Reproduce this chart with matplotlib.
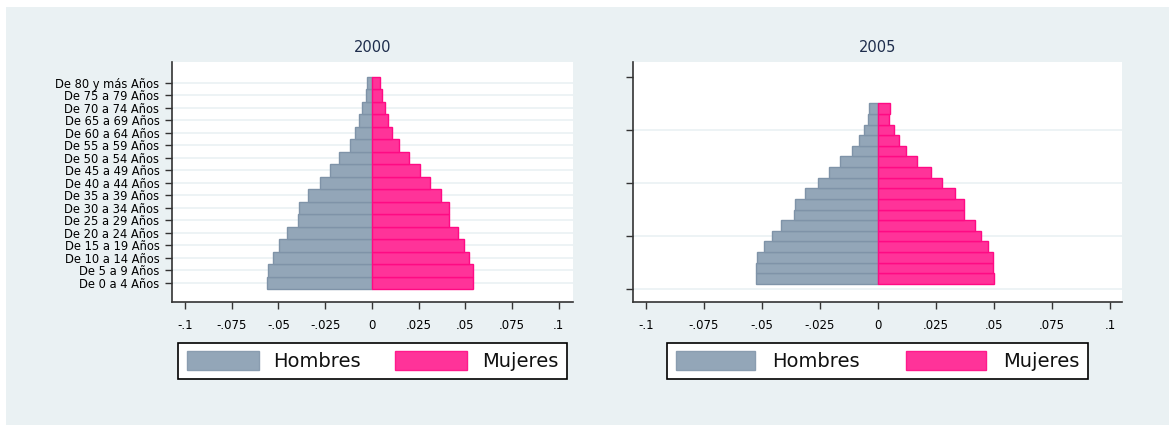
import numpy as np
import matplotlib
matplotlib.use("Agg")
import matplotlib.pyplot as plt
import matplotlib.patches as mpatches

# age groups, youngest first
grupos = ["De 0 a 4 Años", "De 5 a 9 Años", "De 10 a 14 Años", "De 15 a 19 Años",
          "De 20 a 24 Años", "De 25 a 29 Años", "De 30 a 34 Años", "De 35 a 39 Años",
          "De 40 a 44 Años", "De 45 a 49 Años", "De 50 a 54 Años", "De 55 a 59 Años",
          "De 60 a 64 Años", "De 65 a 69 Años", "De 70 a 74 Años", "De 75 a 79 Años",
          "De 80 y más Años"]

# shares of total population (men negative side)
hombres_2000 = [0.0563, 0.0557, 0.0527, 0.0499, 0.0456, 0.0397, 0.0390, 0.0342,
                0.0276, 0.0224, 0.0175, 0.0118, 0.0089, 0.0068, 0.0053, 0.0032, 0.0027]
mujeres_2000 = [0.0541, 0.0540, 0.0520, 0.0491, 0.0461, 0.0411, 0.0411, 0.0370,
                0.0312, 0.0260, 0.0198, 0.0146, 0.0110, 0.0089, 0.0068, 0.0053, 0.0046]
hombres_2005 = [0.0526, 0.0526, 0.0522, 0.0493, 0.0458, 0.0420, 0.0364, 0.0358,
                0.0313, 0.0257, 0.0213, 0.0162, 0.0112, 0.0083, 0.0060, 0.0045, 0.0039]
mujeres_2005 = [0.0501, 0.0494, 0.0496, 0.0473, 0.0445, 0.0418, 0.0371, 0.0371,
                0.0333, 0.0277, 0.0227, 0.0170, 0.0119, 0.0092, 0.0070, 0.0046, 0.0053]

xticks = [-0.1, -0.075, -0.05, -0.025, 0, 0.025, 0.05, 0.075, 0.1]
xticklabels = ["-.1", "-.075", "-.05", "-.025", "0", ".025", ".05", ".075", ".1"]

c_hom, e_hom = "#93a6b8", "#7f93a8"
c_muj, e_muj = "#ff3399", "#ff0a84"
bg = "#eaf1f3"
grid_c = "#eaf1f3"
txt_c = "#1e2d4c"

W, H = 1169, 425
fig = plt.figure(figsize=(W / 100, H / 100), dpi=100, facecolor="white")
fig.patches.append(mpatches.Rectangle((6 / W, 0), 1, 1 - 7 / H, transform=fig.transFigure,
                                      facecolor=bg, edgecolor="none", zorder=-10))


def panel(rect, ypos, hom, muj, title, ylim, xlim, yticks, yticklabels, gridy,
          leg_cx, leg_opts):
    ax = fig.add_axes(rect)
    ax.set_facecolor("white")
    ax.barh(ypos, -np.array(hom), height=1.0, color=c_hom, edgecolor=e_hom, linewidth=1.0, zorder=3)
    ax.barh(ypos, muj, height=1.0, color=c_muj, edgecolor=e_muj, linewidth=1.0, zorder=3)
    for g in gridy:
        ax.axhline(g, color=grid_c, lw=1.2, zorder=1)
    ax.set_xlim(*xlim)
    ax.set_ylim(*ylim)
    ax.set_xticks(xticks)
    ax.set_xticklabels(xticklabels, fontsize=8.5, color="black")
    ax.set_yticks(yticks)
    ax.set_yticklabels(yticklabels, fontsize=8.3, color="black")
    for s in ["top", "right"]:
        ax.spines[s].set_visible(False)
    for s in ["left", "bottom"]:
        ax.spines[s].set_color("#333333")
        ax.spines[s].set_linewidth(1.2)
    ax.tick_params(axis="x", length=5, width=1.0, color="#333333", pad=7)
    ax.tick_params(axis="y", length=5, width=1.0, color="#333333", pad=4)
    ax.set_title(title, fontsize=10.5, color=txt_c, pad=7)
    handles = [mpatches.Patch(facecolor=c_hom, edgecolor="#8a9db0", label="Hombres"),
               mpatches.Patch(facecolor=c_muj, edgecolor="#ff1a8c", label="Mujeres")]
    leg = ax.legend(handles=handles, ncol=2, loc="upper center",
                    bbox_to_anchor=(leg_cx, 1 - 343 / H), bbox_transform=fig.transFigure,
                    fontsize=14, frameon=True, fancybox=False, borderaxespad=0,
                    borderpad=0.42, handleheight=1.1, framealpha=1, **leg_opts)
    leg.get_frame().set_edgecolor("black")
    leg.get_frame().set_linewidth(1.2)
    leg.get_frame().set_facecolor("white")
    for t in leg.get_texts():
        t.set_color("#111111")
    return ax


top, bot = 62, 302
# 2000: categorical y axis with age labels
pos00 = np.arange(len(grupos))
panel([172 / W, 1 - bot / H, (573 - 172) / W, (bot - top) / H], pos00,
      hombres_2000, mujeres_2000, "2000", (-1.54, 17.66), (-0.107, 0.1077),
      pos00, grupos, pos00, 372.5 / W,
      dict(handlelength=3.7, handletextpad=0.77, columnspacing=1.75))

# 2005: numeric y axis, unlabeled ticks every 5
pos05 = np.arange(1, len(grupos) + 1)
panel([633.3 / W, 1 - bot / H, (1122.3 - 633.3) / W, (bot - top) / H], pos05,
      hombres_2005, mujeres_2005, "2005", (-1.19, 21.38), (-0.1055, 0.1053),
      [0, 5, 10, 15, 20], [""] * 5, [0, 5, 10, 15], 877.5 / W,
      dict(handlelength=4.1, handletextpad=0.88, columnspacing=2.37))

fig.savefig("out.png", dpi=100, facecolor="white")
